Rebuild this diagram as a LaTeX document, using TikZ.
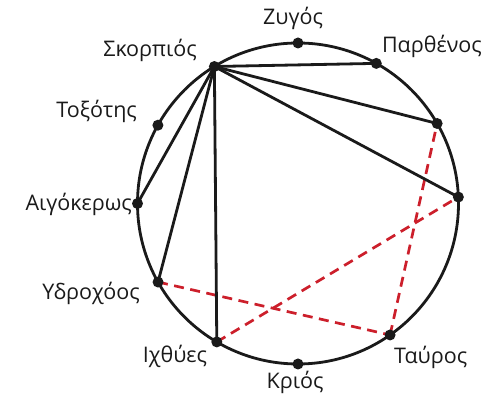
\documentclass[tikz,border=0pt]{standalone}
\usepackage{fontspec}
\setmainfont{Open Sans}
\definecolor{ink}{HTML}{1A1A1A}
\definecolor{redd}{HTML}{CC1F2B}
\begin{document}
\begin{tikzpicture}[x=1pt,y=1pt,
  chord/.style={ink,line width=2.8pt,line cap=round},
  redchord/.style={redd,line width=2.7pt,dash pattern=on 10pt off 6.5pt},
  dotnode/.style={circle,fill=ink,inner sep=0pt,minimum size=11pt},
  lab/.style={text=ink,inner sep=0pt,font=\fontsize{21.5}{24}\selectfont}]
\useasboundingbox (0,0) rectangle (485,401);
\coordinate (c) at (298,197.5);
\def\R{160.5}
\coordinate (Zy) at ([shift={(c)}]90:\R);
\coordinate (Pa) at ([shift={(c)}]60.8:\R);
\coordinate (Ka) at ([shift={(c)}]29.9:\R);
\coordinate (Di) at ([shift={(c)}]2.3:\R);
\coordinate (Ta) at ([shift={(c)}]-55:\R);
\coordinate (Kr) at ([shift={(c)}]-90:\R);
\coordinate (Ix) at ([shift={(c)}]-120.4:\R);
\coordinate (Yd) at ([shift={(c)}]-150.7:\R);
\coordinate (Ai) at ([shift={(c)}]180:\R);
\coordinate (To) at ([shift={(c)}]150.8:\R);
\coordinate (Sk) at ([shift={(c)}]121.4:\R);
% red dashed chords
\draw[redchord] (Yd) -- (Ta);
\draw[redchord] (Ix) -- (Di);
\draw[redchord] (Ta) -- (Ka);
% black chords
\draw[chord] (Sk) -- (Pa);
\draw[chord] (Sk) -- (Ka);
\draw[chord] (Sk) -- (Di);
\draw[chord] (Sk) -- (Ix);
\draw[chord] (Sk) -- (Yd);
\draw[chord] (Sk) -- (Ai);
% circle
\draw[ink,line width=2.8pt] (c) circle (\R);
% dots
\foreach \p in {Zy,Pa,Ka,Di,Ta,Kr,Ix,Yd,Ai,To,Sk}
  \node[dotnode] (d\p) at (\p) {};
% labels
\node[lab,anchor=base] (lZy) at (293,376) {Ζυγός};
\node[lab,anchor=base east] (lPa) at (482,348) {Παρθένος};
\node[lab,anchor=base east] (lSk) at (197,344) {Σκορπιός};
\node[lab,anchor=base east] (lTo) at (137,283) {Τοξότης};
\node[lab,anchor=base east] (lAi) at (132,190) {Αιγόκερως};
\node[lab,anchor=base east] (lYd) at (140,101) {Υδροχόος};
\node[lab,anchor=base] (lIx) at (175,38) {Ιχθύες};
\node[lab,anchor=base] (lKr) at (295,12) {Κριός};
\node[lab,anchor=base west] (lTa) at (394,37) {Ταύρος};
\end{tikzpicture}
\end{document}
